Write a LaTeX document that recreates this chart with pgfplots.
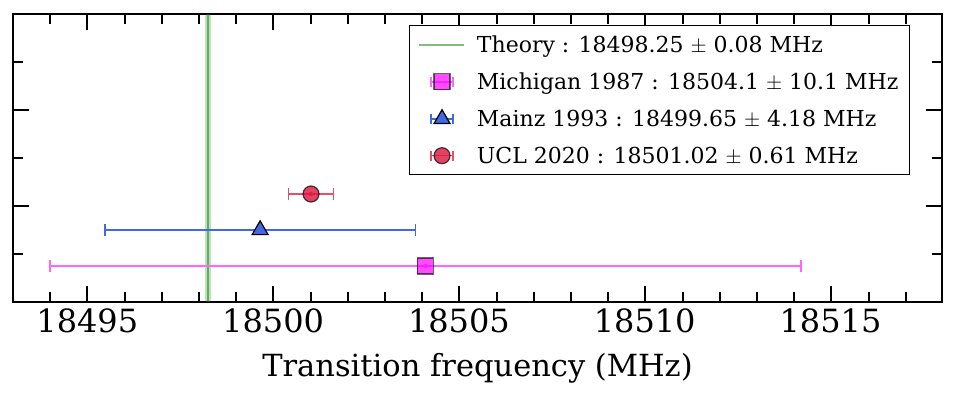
\documentclass[border=0pt]{standalone}
\usepackage{pgfplots}
\pgfplotsset{compat=1.18}
\usepackage{fontspec}
\setmainfont{DejaVu Serif}
\definecolor{thgreen}{RGB}{0,128,0}
\definecolor{magcol}{RGB}{255,0,255}
\definecolor{bluecol}{RGB}{65,105,225}
\definecolor{redcol}{RGB}{220,20,60}
\pgfplotsset{
  theorylegend/.style={legend image code/.code={\draw[##1] (0bp,0bp)--(45bp,0bp);}},
  errlegend/.style={legend image code/.code={
    \draw[draw=#1, line width=1.5bp] (12bp,0bp)--(34bp,0bp) (12bp,-5bp)--(12bp,5bp) (34bp,-5bp)--(34bp,5bp);
    \draw[##1] plot coordinates {(23bp,0bp)};}},
  errbar/.style={only marks, mark=none, forget plot, #1,
    error bars/.cd, x dir=both, x explicit,
    error bar style={line width=1.5bp, #1},
    error mark options={rotate=90, mark size=6bp, line width=1.5bp, #1}},
}
\begin{document}
\begin{tikzpicture}
\begin{axis}[
  scale only axis, width=929bp, height=288bp,
  xmin=18493, xmax=18518, ymin=0, ymax=6,
  scaled x ticks=false,
  xtick={18495,18500,18505,18510,18515},
  minor xtick={18493,18494,...,18518},
  ytick={0,2,4,6}, minor ytick={1,3,5}, yticklabels={},
  xticklabels={18495,18500,18505,18510,18515},
  tick align=inside,
  major tick length=16bp, minor tick length=10bp,
  every tick/.style={black, line width=2bp},
  axis line style={line width=2.8bp},
  x tick label style={font=\fontsize{32bp}{36bp}\selectfont, yshift=-3bp},
  xlabel={Transition frequency (MHz)},
  xlabel style={font=\fontsize{30.5bp}{34bp}\selectfont, yshift=-14bp},
  legend style={at={(1,1)}, anchor=north east, xshift=-32bp, yshift=-11bp,
    draw=black, line width=1.2bp, fill=white, inner xsep=9bp, inner ysep=8bp,
    font=\fontsize{22bp}{26bp}\selectfont, row sep=15bp,
    /tikz/every odd column/.append style={column sep=10bp}},
  legend cell align=left,
]
% theory band
\addplot[fill=thgreen, fill opacity=0.25, draw=none, forget plot]
  coordinates {(18498.17,0) (18498.33,0) (18498.33,6) (18498.17,6)} \closedcycle;
\addplot[thgreen, opacity=0.5, line width=1.8bp, theorylegend]
  coordinates {(18498.25,0) (18498.25,6)};
\addlegendentry{Theory : 18498.25 $\pm$ 0.08 MHz}
% Michigan
\addplot[errbar=magcol!60] coordinates {(18504.1,0.75) +- (10.1,0)};
\addplot[only marks, mark=square*, mark size=8bp,
  mark options={fill=magcol, fill opacity=0.7, draw=black, draw opacity=0.6, line width=1.2bp},
  errlegend=magcol!60]
  coordinates {(18504.1,0.75)};
\addlegendentry{Michigan 1987 : 18504.1 $\pm$ 10.1 MHz}
% Mainz
\addplot[errbar=bluecol] coordinates {(18499.65,1.5) +- (4.18,0)};
\addplot[only marks, mark=triangle*, mark size=9.2bp,
  mark options={fill=bluecol, draw=black, line width=1.2bp},
  errlegend=bluecol]
  coordinates {(18499.65,1.5)};
\addlegendentry{Mainz 1993 : 18499.65 $\pm$ 4.18 MHz}
% UCL
\addplot[errbar=redcol!75] coordinates {(18501.02,2.25) +- (0.61,0)};
\addplot[only marks, mark=*, mark size=8bp,
  mark options={fill=redcol, fill opacity=0.8, draw=black, draw opacity=0.7, line width=1.2bp},
  errlegend=redcol!75]
  coordinates {(18501.02,2.25)};
\addlegendentry{UCL 2020 : 18501.02 $\pm$ 0.61 MHz}
\end{axis}
\path ([shift={(-13bp,-97bp)}]current axis.south west) rectangle ([shift={(15bp,14bp)}]current axis.north east);
\end{tikzpicture}
\end{document}
